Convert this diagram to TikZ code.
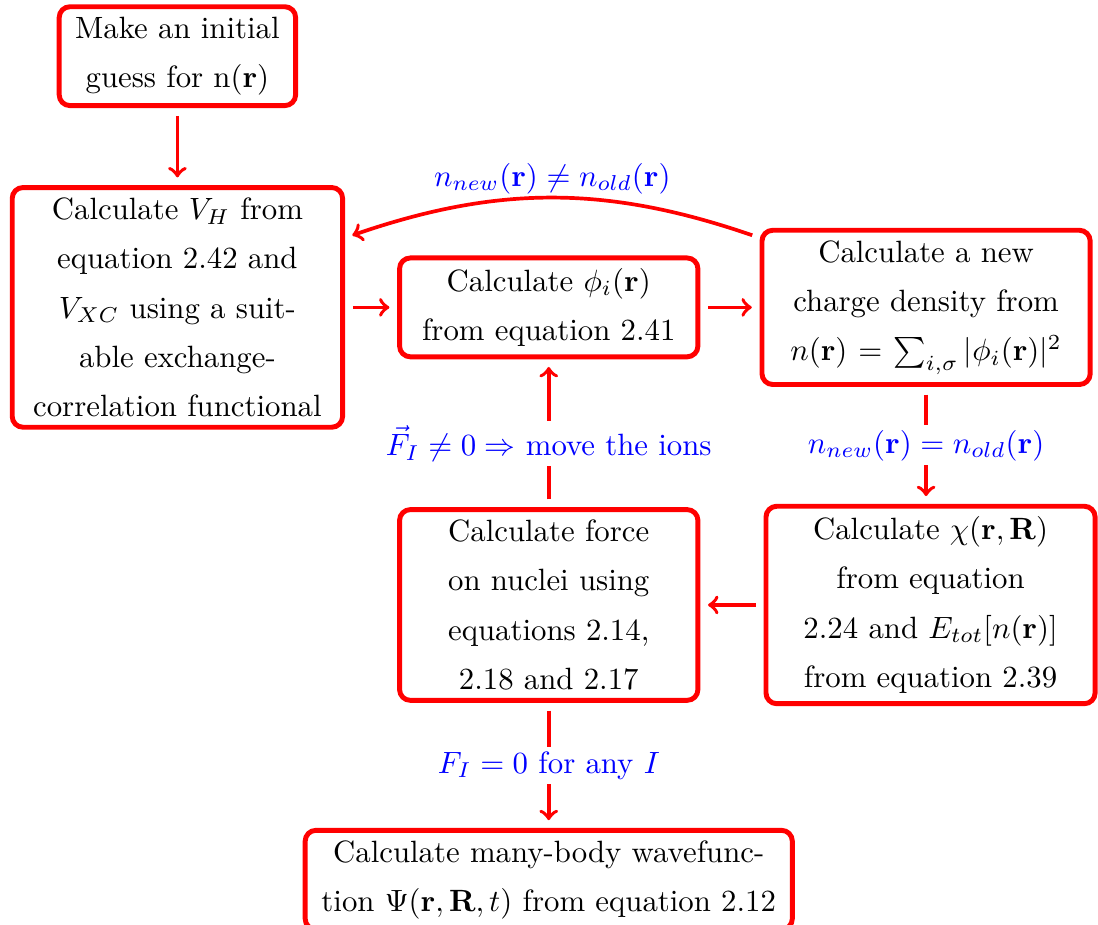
\documentclass[tikz,border=0pt]{standalone}
\usepackage{amsmath}
\usepackage{amssymb}
\usepackage{tikz}
\usepackage{xcolor}
\usetikzlibrary{arrows,positioning}

\begin{document}
\begin{tikzpicture}[
    box/.style={draw=red, line width=1.6pt, rectangle, rounded corners=3.5pt, align=center, font=\fontsize{10}{16}\selectfont},
    cond/.style={text=blue, fill=white, inner sep=1.5pt},
    flow/.style={->, draw=red, line width=1.2pt, shorten <=2.5pt, shorten >=2.5pt}
  ]
    \useasboundingbox (0,0) rectangle (356.5pt,-300.3pt);

    \node[box, text width=100.6pt] (vh) at (57.6pt,-99.8pt) {Calculate $V_H$ from\\ equation 2.42 and\\ $V_{XC}$ using a suit-\\able exchange-\\correlation functional};
    \node[box, text width=70.1pt, above=25pt of vh] (guess) {Make an initial\\ guess for n($\mathbf{r}$)};
    \node[box, text width=90.2pt, right=16.9pt of vh] (phi) {Calculate $\phi_i(\mathbf{r})$\\ from equation 2.41};
    \node[box, text width=99.9pt, right=19.2pt of phi] (dens) {Calculate a new\\ charge density from\\ $n(\mathbf{r}) = \sum_{i,\sigma} |\phi_i(\mathbf{r})|^2$};
    \node[box, text width=90.2pt, below=48pt of phi] (force) {Calculate force\\ on nuclei using\\ equations 2.14,\\ 2.18 and 2.17};
    \node[box, text width=100.2pt, right=20.5pt of force] (chi) {Calculate $\chi(\mathbf{r},\mathbf{R})$\\ from equation\\ 2.24 and $E_{tot}[n(\mathbf{r})]$\\ from equation 2.39};
    \node[box, text width=151.5pt, below=40.6pt of force] (psi) {Calculate many-body wavefunc-\\tion $\Psi(\mathbf{r},\mathbf{R},t)$ from equation 2.12};

    \draw[flow] (guess) -- (vh);
    \draw[flow] (vh) -- (phi);
    \draw[flow] (phi) -- (dens);
    \draw[flow] ([yshift=22.6pt]dens.west) to[bend right=19] node[cond, fill=none, above, inner sep=0.8pt] {$n_{new}(\mathbf{r}) \neq n_{old}(\mathbf{r})$} ([yshift=22.6pt]vh.east);
    \draw[flow] (dens) -- node[cond] {$n_{new}(\mathbf{r}) = n_{old}(\mathbf{r})$} (dens |- chi.north);
    \draw[flow] (chi) -- (force);
    \draw[flow] (force) -- node[cond, pos=0.43] {$\vec{F}_I \neq 0 \Rightarrow$ move the ions} (phi);
    \draw[flow] (force) -- node[cond] {$F_I = 0$ for any $I$} (psi);
\end{tikzpicture}
\end{document}
